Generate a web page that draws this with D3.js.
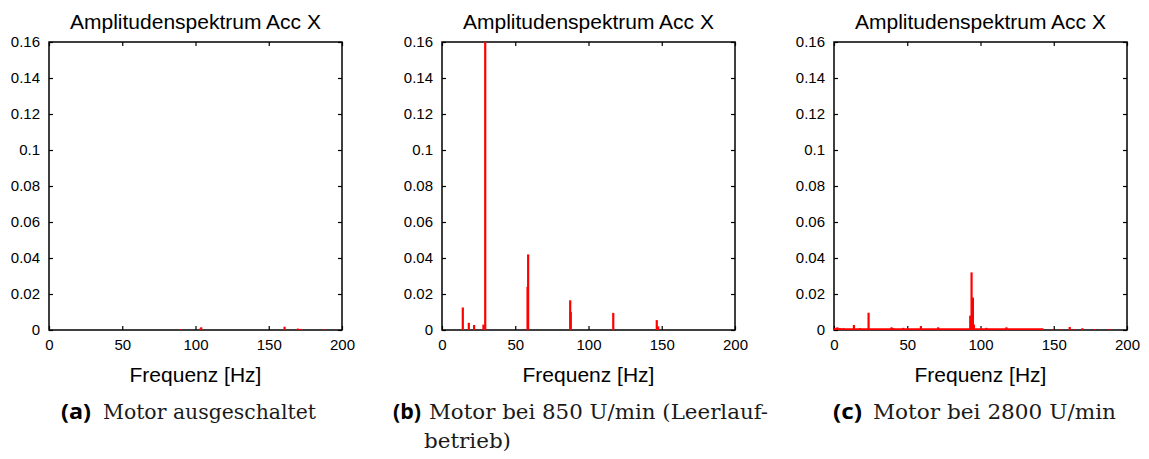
<!DOCTYPE html>
<html>
<head>
<meta charset="utf-8">
<script src="https://cdn.jsdelivr.net/npm/d3@7"></script>
<style>
  html, body { margin: 0; padding: 0; background: #fff; }
  svg { display: block; }
</style>
</head>
<body>
<svg id="chart" width="1149" height="459"></svg>
<script>
// ---------------- data ----------------
const titleText = "Amplitudenspektrum Acc X";
const xLabelText = "Frequenz [Hz]";
const xTicks = [0, 50, 100, 150, 200];
const yTicks = [0, 0.02, 0.04, 0.06, 0.08, 0.1, 0.12, 0.14, 0.16];
const xDomain = [0, 200];
const yDomain = [0, 0.16];

// (a) Motor ausgeschaltet
const aFreq = [89.7, 103.2, 103.9, 160.8, 169.9, 172.2, 187.5];
const aAmp  = [0.0005, 0.0008, 0.0015, 0.0018, 0.0008, 0.0006, 0.0004];

// (b) Motor bei 850 U/min
const bFreq = [14.2, 18.3, 21.9, 28.3, 29.5, 58.4, 58.8, 87.5, 87.9, 116.9, 146.6, 147.6];
const bAmp  = [0.0125, 0.004, 0.0028, 0.003, 0.16, 0.024, 0.042, 0.0165, 0.010, 0.0095, 0.0055, 0.002];

// (c) Motor bei 2800 U/min
const cFreq = [0.8, 2.3, 4.0, 6.4, 13.6, 17.7, 23.6, 39.3, 40.5, 47.3, 59.3, 71.1,
               93.0, 93.9, 94.8, 95.5, 104.0, 117.7, 149.0, 155.0, 160.9, 164.3, 169.5, 178.0, 188.0];
const cAmp  = [0.001, 0.0015, 0.001, 0.001, 0.0028, 0.001, 0.0096, 0.0015, 0.001, 0.0012, 0.0022, 0.0015,
               0.008, 0.032, 0.018, 0.003, 0.0012, 0.0015, 0.0004, 0.0004, 0.0017, 0.0005, 0.001, 0.0005, 0.0006];
const cFloorFreq = [0, 143];
const cFloorAmp  = [0.0004, 0.0004];

const captionLabels = ["(a)", "(b)", "(c)"];
const captionLines = [
  ["Motor ausgeschaltet"],
  ["Motor bei 850 U/min (Leerlauf-", "betrieb)"],
  ["Motor bei 2800 U/min"]
];

// ---------------- layout ----------------
const panels = [
  { left: 49,  freq: aFreq, amp: aAmp, floorF: null, floorA: null,
    cap: { labelX: 61,  textX: 103, widths: [213], labelW: 30 } },
  { left: 442, freq: bFreq, amp: bAmp, floorF: null, floorA: null,
    cap: { labelX: 393, textX: 429, widths: [339, 87], labelW: 28, contX: 424 } },
  { left: 834, freq: cFreq, amp: cAmp, floorF: cFloorFreq, floorA: cFloorAmp,
    cap: { labelX: 833, textX: 873, widths: [243], labelW: 29 } }
];
const plotW = 293, plotTop = 42, plotH = 288;

const svg = d3.select("#chart");
const defs = svg.append("defs");

panels.forEach((p, i) => {
  const x = d3.scaleLinear().domain(xDomain).range([p.left, p.left + plotW]);
  const y = d3.scaleLinear().domain(yDomain).range([plotTop + plotH, plotTop]);
  const g = svg.append("g");

  defs.append("clipPath").attr("id", "clip" + i)
    .append("rect").attr("x", p.left).attr("y", plotTop).attr("width", plotW).attr("height", plotH);

  // axes (ticks inside, mirrored)
  const fmtY = d => d === 0 ? "0" : String(+d.toFixed(2));
  const axB = d3.axisBottom(x).tickValues(xTicks).tickSize(-4).tickPadding(9).tickFormat(d3.format("d"));
  const axT = d3.axisTop(x).tickValues(xTicks).tickSize(-4).tickFormat("");
  const axL = d3.axisLeft(y).tickValues(yTicks).tickSize(-4).tickPadding(9).tickFormat(fmtY);
  const axR = d3.axisRight(y).tickValues(yTicks).tickSize(-4).tickFormat("");

  const styleAxis = sel => {
    sel.select(".domain").remove();
    sel.selectAll(".tick line").attr("stroke", "#000").attr("stroke-width", 1.2);
    sel.selectAll(".tick text").attr("fill", "#000")
      .style("font-family", "'Liberation Sans', Arial, sans-serif").style("font-size", "15px");
  };
  g.append("g").attr("transform", `translate(0,${plotTop + plotH})`).call(axB).call(styleAxis);
  g.append("g").attr("transform", `translate(0,${plotTop})`).call(axT).call(styleAxis);
  g.append("g").attr("transform", `translate(${p.left},0)`).call(axL).call(styleAxis);
  g.append("g").attr("transform", `translate(${p.left + plotW},0)`).call(axR).call(styleAxis);

  // box
  g.append("rect").attr("x", p.left).attr("y", plotTop).attr("width", plotW).attr("height", plotH)
    .attr("fill", "none").attr("stroke", "#000").attr("stroke-width", 1.5);

  // data
  const dg = g.append("g").attr("clip-path", `url(#clip${i})`);
  if (p.floorF) {
    const pts = p.floorF.map((f, k) => [f, p.floorA[k]]);
    dg.append("path").attr("d", d3.line().x(d => x(d[0])).y(d => y(d[1]))(pts))
      .attr("stroke", "#ff0000").attr("stroke-width", 2).attr("fill", "none");
  }
  const peaks = p.freq.map((f, k) => ({ f, a: p.amp[k] }));
  dg.selectAll("line.peak").data(peaks).enter().append("line")
    .attr("class", "peak")
    .attr("x1", d => x(d.f)).attr("x2", d => x(d.f))
    .attr("y1", y(0)).attr("y2", d => y(d.a))
    .attr("stroke", "#ff0000").attr("stroke-width", 2.2);

  // title
  g.append("text").attr("x", p.left + plotW / 2).attr("y", 29)
    .attr("text-anchor", "middle").attr("fill", "#000")
    .style("font-family", "'Liberation Sans', Arial, sans-serif").style("font-size", "21px")
    .text(titleText);

  // x label
  g.append("text").attr("x", p.left + plotW / 2).attr("y", 382)
    .attr("text-anchor", "middle").attr("fill", "#000")
    .style("font-family", "'Liberation Sans', Arial, sans-serif").style("font-size", "21px")
    .text(xLabelText);

  // caption
  const c = p.cap;
  g.append("text").attr("x", c.labelX).attr("y", 419)
    .attr("fill", "#000")
    .attr("textLength", c.labelW).attr("lengthAdjust", "spacingAndGlyphs")
    .style("font-family", "'Open Sans', 'DejaVu Sans', sans-serif").style("font-weight", "bold").style("font-size", "21px")
    .text(captionLabels[i]);
  captionLines[i].forEach((line, k) => {
    g.append("text")
      .attr("x", k === 0 ? c.textX : c.contX)
      .attr("y", 419 + k * 29)
      .attr("fill", "#1a1a1a")
      .attr("textLength", c.widths[k]).attr("lengthAdjust", "spacingAndGlyphs")
      .style("font-family", "'DejaVu Serif', 'Liberation Serif', serif").style("font-size", "20px")
      .text(line);
  });
});
</script>
</body>
</html>
